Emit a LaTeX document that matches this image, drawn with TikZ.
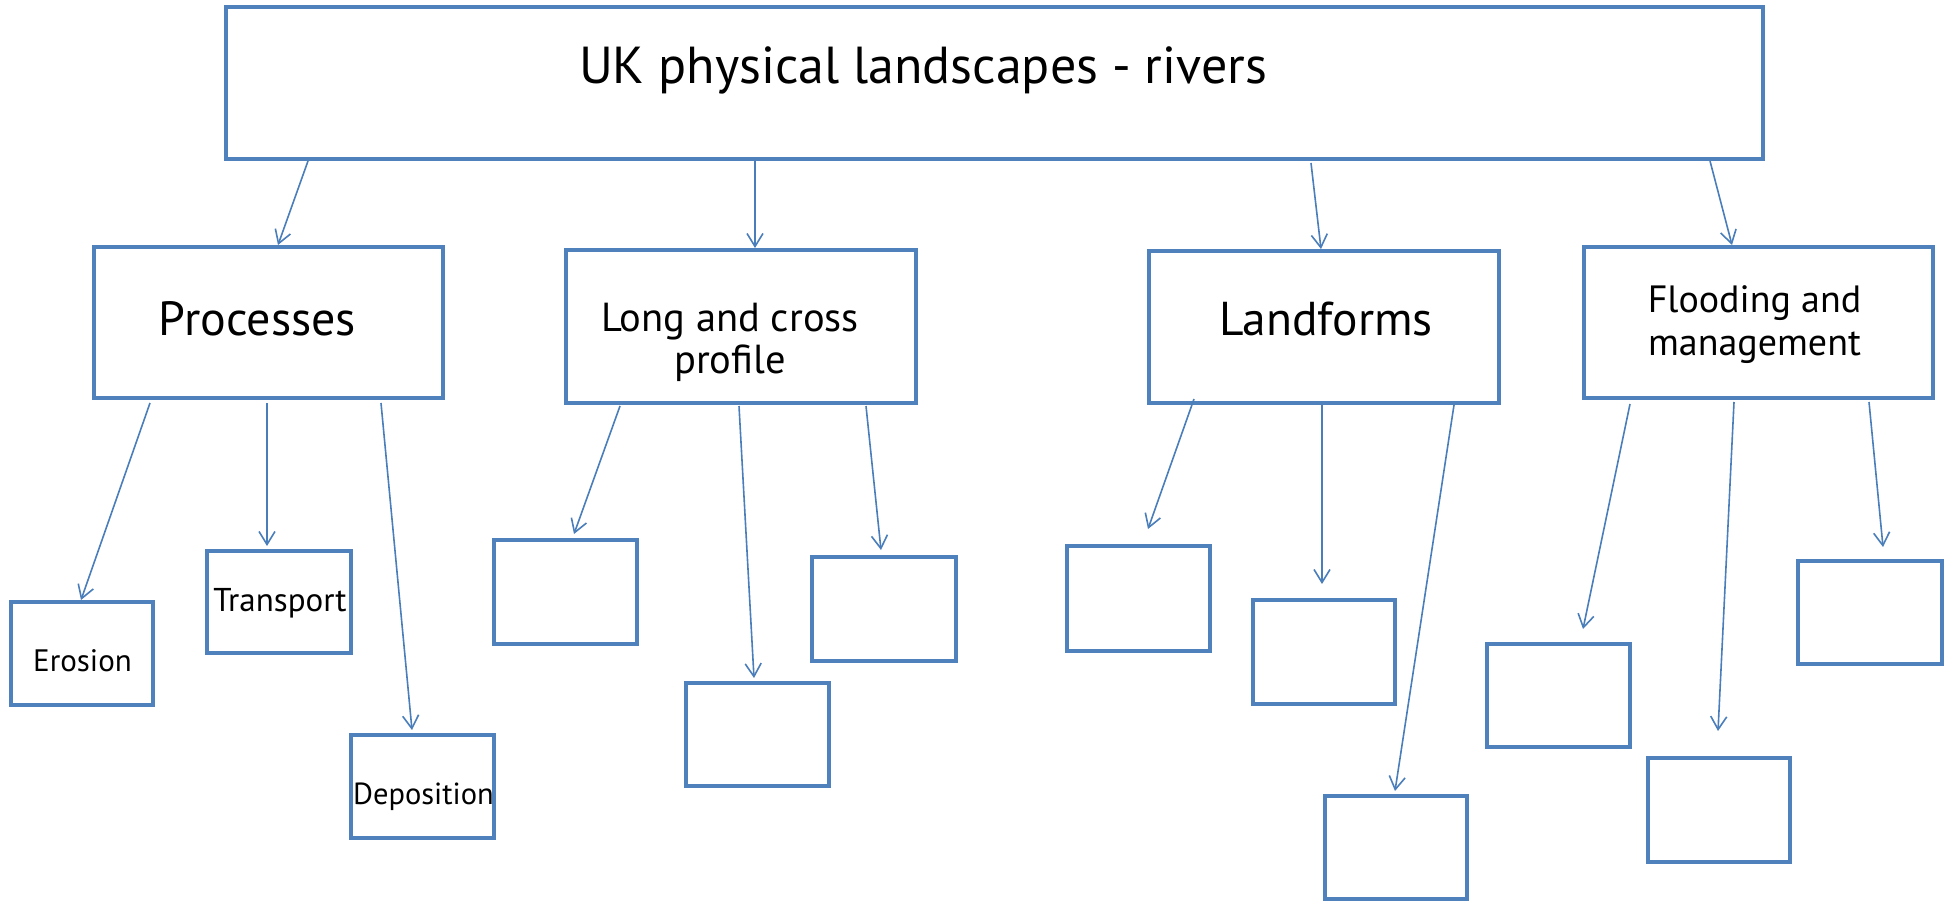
\documentclass[tikz,border=0pt]{standalone}
\usepackage{fontspec}
\setmainfont{PT Sans}
\usetikzlibrary{arrows.meta,calc}
\definecolor{boxblue}{HTML}{4F81BD}
\definecolor{arrblue}{HTML}{4A7EBB}
\tikzset{
  box/.style={draw=boxblue, line width=4pt, fill=white, inner sep=0pt, rectangle},
  arr/.style={draw=arrblue, line width=1.6pt, -{Straight Barb[length=13pt,width=16pt,line width=1.6pt]}},
  txt/.style={inner sep=0pt, anchor=base, text=black},
}
\newcommand{\fs}[1]{\fontsize{#1}{#1}\selectfont}
\begin{document}
\begin{tikzpicture}[x=1pt,y=-1pt]
\useasboundingbox (0,0) rectangle (1956,909);
% boxes
\node[box, minimum width=1537pt, minimum height=152pt] (title) at (994.5,83) {};
\node[box, minimum width=349pt, minimum height=151pt] (proc) at (268.5,322.5) {};
\node[box, minimum width=350pt, minimum height=153pt] (long) at (741,326.5) {};
\node[box, minimum width=350pt, minimum height=152pt] (land) at (1324,327) {};
\node[box, minimum width=349pt, minimum height=151pt] (flood) at (1758.5,322.5) {};
\node[box, minimum width=142pt, minimum height=103pt] (ero) at (82,653.5) {};
\node[box, minimum width=144pt, minimum height=102pt] (tra) at (279,602) {};
\node[box, minimum width=143pt, minimum height=103pt] (dep) at (422.5,786.5) {};
\node[box, minimum width=143pt, minimum height=104pt] (la) at (565.5,592) {};
\node[box, minimum width=143pt, minimum height=103pt] (lb) at (757.5,734.5) {};
\node[box, minimum width=144pt, minimum height=104pt] (lc) at (884,609) {};
\node[box, minimum width=143pt, minimum height=105pt] (da) at (1138.5,598.5) {};
\node[box, minimum width=142pt, minimum height=104pt] (db) at (1324,652) {};
\node[box, minimum width=142pt, minimum height=103pt] (dc) at (1396,847.5) {};
\node[box, minimum width=143pt, minimum height=103pt] (fa) at (1558.5,695.5) {};
\node[box, minimum width=142pt, minimum height=104pt] (fb) at (1719,810) {};
\node[box, minimum width=144pt, minimum height=103pt] (fc) at (1870,612.5) {};
% texts
\node[txt, font=\fs{52}] (titletxt) at (923,84) {UK physical landscapes - rivers};
\node[txt, font=\fs{48}] (proctxt) at (257.5,335) {Processes};
\node[txt, font=\fs{40.5}] (longtxt1) at (730,331) {Long and cross};
\node[txt, font=\fs{40.5}] (longtxt2) at (730,373) {profile};
\node[txt, font=\fs{47.5}] (landtxt) at (1326,335) {Landforms};
\node[txt, font=\fs{38}] (floodtxt1) at (1754.5,312) {Flooding and};
\node[txt, font=\fs{38}] (floodtxt2) at (1754.5,355) {management};
\node[txt, font=\fs{31}] (erotxt) at (82.5,671) {Erosion};
\node[txt, font=\fs{33}] (tratxt) at (280,611) {Transport};
\node[txt, font=\fs{30.5}] (deptxt) at (423.5,804) {Deposition};
% arrows from title
\draw[arr] ($(title.south west)+(84,0)$) -- ($(proc.north west)+(186,0)$);
\draw[arr] ($(title.south west)+(531,0)$) -- ($(long.north west)+(191,0)$);
\draw[arr] ($(title.south west)+(1087,2)$) -- ($(land.north west)+(174,0)$);
\draw[arr] ($(title.south west)+(1486,0)$) -- ($(flood.north west)+(150,0)$);
% processes
\draw[arr] ($(proc.south west)+(58,3)$) -- ($(ero.north west)+(72,0)$);
\draw[arr] ($(proc.south west)+(175,3)$) -- ($(tra.north west)+(62,-3)$);
\draw[arr] ($(proc.south west)+(289,3)$) -- ($(dep.north west)+(63,-3)$);
% long and cross
\draw[arr] ($(long.south west)+(56,1)$) -- ($(la.north west)+(82,-4)$);
\draw[arr] ($(long.south west)+(175,1)$) -- ($(lb.north west)+(70,-3)$);
\draw[arr] ($(long.south west)+(302,1)$) -- ($(lc.north west)+(71,-5)$);
% landforms
\draw[arr] ($(land.south west)+(47,-6)$) -- ($(da.north west)+(83,-15)$);
\draw[arr] ($(land.south west)+(175,0)$) -- ($(db.north west)+(71,-14)$);
\draw[arr] ($(land.south west)+(307,0)$) -- ($(dc.north west)+(72,-3)$);
% flooding
\draw[arr] ($(flood.south west)+(48,4)$) -- ($(fa.north west)+(98,-13)$);
\draw[arr] ($(flood.south west)+(152,2)$) -- ($(fb.north west)+(72,-25)$);
\draw[arr] ($(flood.south west)+(287,2)$) -- ($(fc.north west)+(87,-12)$);
\end{tikzpicture}
\end{document}
